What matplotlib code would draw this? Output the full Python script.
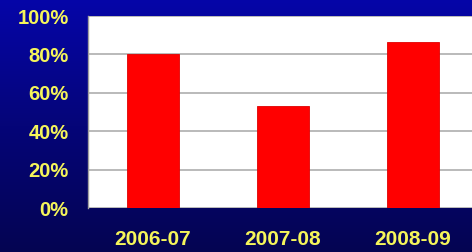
import matplotlib
matplotlib.use("Agg")
import matplotlib.pyplot as plt
import numpy as np
from matplotlib.colors import LinearSegmentedColormap

categories = ["2006-07", "2007-08", "2008-09"]
values = [80, 53, 86.5]
yticks = [0, 20, 40, 60, 80, 100]
ytick_labels = ["0%", "20%", "40%", "60%", "80%", "100%"]

W, H = 472, 252
fig = plt.figure(figsize=(W / 100, H / 100), dpi=100)

# gradient background
bg = fig.add_axes([0, 0, 1, 1])
cmap = LinearSegmentedColormap.from_list("bg", ["#0606A8", "#050578", "#040452"])
grad = np.linspace(0, 1, 256).reshape(-1, 1)
bg.imshow(grad, aspect="auto", cmap=cmap, extent=[0, 1, 0, 1], origin="upper")
bg.set_axis_off()

left, right, top, bottom = 88, 478, 16, 208
ax = fig.add_axes([left / W, 1 - bottom / H, (right - left) / W, (bottom - top) / H])
ax.set_facecolor("white")
x = np.arange(len(categories))
ax.bar(x, values, width=0.4, color="#FF0000", edgecolor="#E00000", linewidth=0.6, zorder=3)
ax.set_xlim(-0.5, 2.5)
ax.set_ylim(0, 100)
ax.set_yticks(yticks)
ax.set_yticklabels(ytick_labels)
ax.set_xticks(x)
ax.set_xticklabels(categories)
ax.yaxis.grid(True, color="#B4B4B4", linewidth=1.3, zorder=0)
ax.tick_params(axis="y", length=0, pad=14, labelcolor="#F5F55A", labelsize=14.5)
ax.tick_params(axis="x", length=0, pad=16, labelcolor="#F5F55A", labelsize=15)
for lab in ax.get_xticklabels() + ax.get_yticklabels():
    lab.set_fontfamily("Liberation Sans")
    lab.set_fontweight("bold")
for s in ["top", "right", "bottom"]:
    ax.spines[s].set_visible(False)
ax.spines["left"].set_color("#A0A0A0")
ax.spines["left"].set_linewidth(1)

fig.savefig("out.png", dpi=100)
